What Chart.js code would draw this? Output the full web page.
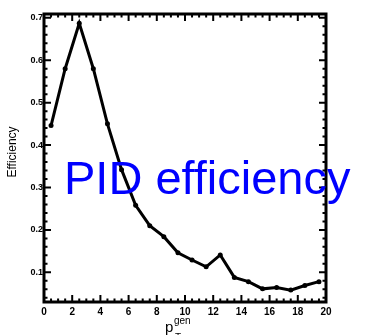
<!DOCTYPE html>
<html>
<head>
<meta charset="utf-8">
<script src="https://cdn.jsdelivr.net/npm/chart.js@4"></script>
<style>
  html, body { margin: 0; padding: 0; background: #fff; }
  #wrap { position: relative; width: 375px; height: 335px; }
  #label {
    position: absolute; left: 64px; top: 154px;
    font-family: "Liberation Sans", Arial, sans-serif;
    font-size: 47px; color: #0000ff; white-space: nowrap; line-height: 1;
  }
</style>
</head>
<body>
<div id="wrap">
  <canvas id="effChart" width="375" height="335"></canvas>
  <div id="label">PID efficiency</div>
</div>
<script>
// p_T^gen bin centres and efficiency per bin
const ptBins = [0.5, 1.5, 2.5, 3.5, 4.5, 5.5, 6.5, 7.5, 8.5, 9.5, 10.5, 11.5, 12.5, 13.5, 14.5, 15.5, 16.5, 17.5, 18.5, 19.5];
const efficiency = [0.446, 0.580, 0.687, 0.580, 0.450, 0.342, 0.258, 0.210, 0.184, 0.146, 0.129, 0.113, 0.141, 0.088, 0.078, 0.061, 0.064, 0.058, 0.069, 0.078];
const xTickLabels = ['0', '2', '4', '6', '8', '10', '12', '14', '16', '18', '20'];
const yTickLabels = ['0.1', '0.2', '0.3', '0.4', '0.5', '0.6', '0.7'];

// draws the thick frame, inward ticks and labels like the original ROOT style plot
const framePlugin = {
    id: 'frame',
    afterDraw(chart) {
        const ctx = chart.ctx;
        const area = chart.chartArea;
        const xs = chart.scales.x;
        const ys = chart.scales.y;
        ctx.save();
        ctx.strokeStyle = '#000';
        ctx.fillStyle = '#000';

        // minor + major ticks on x (bottom and top)
        ctx.lineWidth = 2;
        for (let v = 0; v <= 20.001; v += 0.5) {
            const px = xs.getPixelForValue(v);
            const len = (Math.abs(v % 2) < 0.001) ? 7 : 3.5;
            ctx.beginPath();
            ctx.moveTo(px, area.bottom);
            ctx.lineTo(px, area.bottom - len);
            ctx.moveTo(px, area.top);
            ctx.lineTo(px, area.top + len);
            ctx.stroke();
        }
        // ticks on y (left and right)
        for (let i = 2; i <= 35; i++) {
            const v = i * 0.02;
            const py = ys.getPixelForValue(v);
            const len = (i % 5 === 0) ? 7 : 3.5;
            ctx.beginPath();
            ctx.moveTo(area.left, py);
            ctx.lineTo(area.left + len, py);
            ctx.moveTo(area.right, py);
            ctx.lineTo(area.right - len, py);
            ctx.stroke();
        }

        // frame
        ctx.lineWidth = 3;
        ctx.strokeRect(area.left, area.top, area.right - area.left, area.bottom - area.top);

        // tick labels
        ctx.font = 'bold 10px "Liberation Sans", Arial, sans-serif';
        ctx.textAlign = 'center';
        ctx.textBaseline = 'middle';
        xTickLabels.forEach(t => {
            ctx.fillText(t, xs.getPixelForValue(parseFloat(t)), area.bottom + 10);
        });
        ctx.font = 'bold 9px "Liberation Sans", Arial, sans-serif';
        ctx.textAlign = 'right';
        yTickLabels.forEach(t => {
            ctx.fillText(t, area.left - 1, ys.getPixelForValue(parseFloat(t)));
        });

        // axis titles
        ctx.font = '12px "Liberation Sans", Arial, sans-serif';
        ctx.save();
        ctx.translate(13, 152);
        ctx.rotate(-Math.PI / 2);
        ctx.textAlign = 'center';
        ctx.fillText('Efficiency', 0, 0);
        ctx.restore();

        ctx.textAlign = 'left';
        ctx.textBaseline = 'alphabetic';
        ctx.font = '15px "Liberation Sans", Arial, sans-serif';
        ctx.fillText('p', 165, 332);
        ctx.font = '10px "Liberation Sans", Arial, sans-serif';
        ctx.fillText('gen', 174, 324);
        ctx.fillText('T', 175, 341);
        ctx.restore();
    }
};

new Chart(document.getElementById('effChart').getContext('2d'), {
    type: 'line',
    data: {
        datasets: [{
            label: 'Efficiency',
            data: ptBins.map((x, i) => ({ x: x, y: efficiency[i] })),
            borderColor: '#000',
            backgroundColor: '#000',
            borderWidth: 3,
            pointRadius: 2.5,
            pointBorderWidth: 0,
            tension: 0,
            fill: false
        }]
    },
    options: {
        responsive: false,
        animation: false,
        layout: {
            padding: { left: 44, right: 49, top: 14, bottom: 33 }
        },
        scales: {
            x: { type: 'linear', min: 0, max: 20, display: false },
            y: { type: 'linear', min: 0.03, max: 0.709, display: false }
        },
        plugins: {
            legend: { display: false },
            tooltip: { enabled: false }
        }
    },
    plugins: [framePlugin]
});
</script>
</body>
</html>
